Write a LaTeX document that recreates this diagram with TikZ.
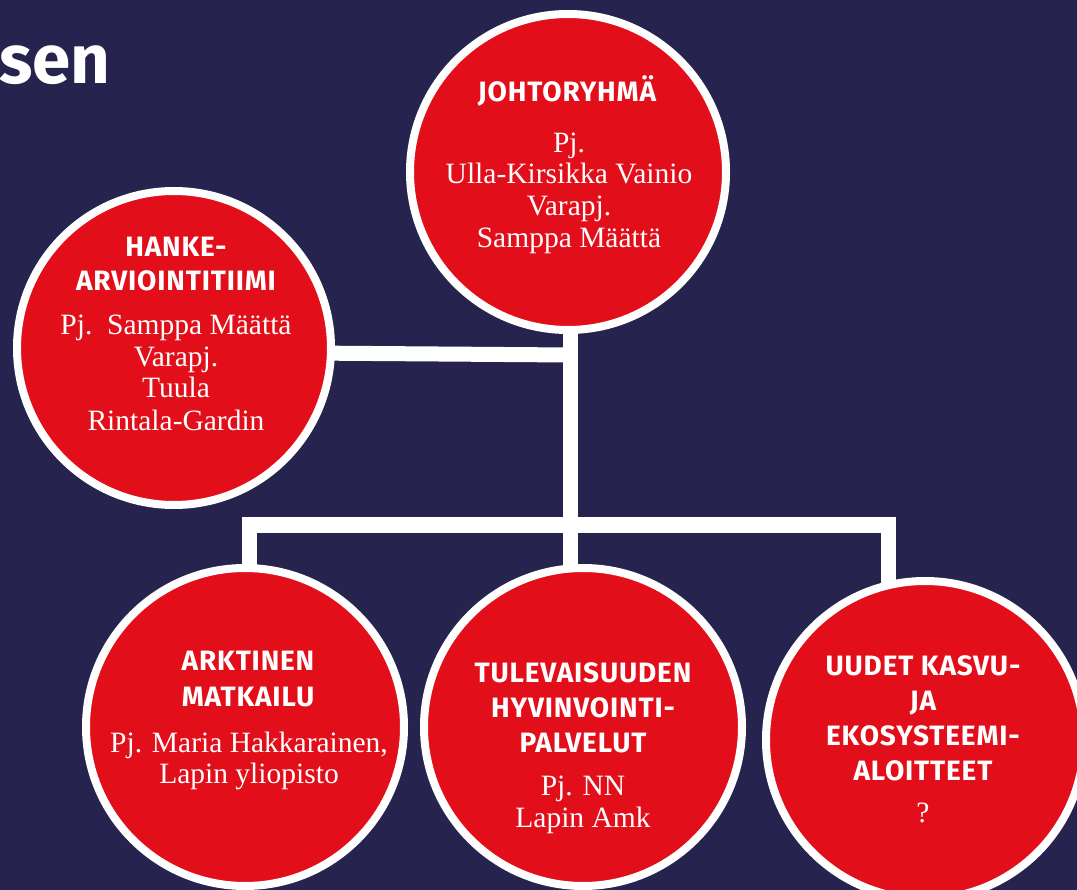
\documentclass[tikz,border=0pt]{standalone}
\usepackage{fontspec}
\setmainfont{Liberation Serif}
\newfontfamily\headfont[LetterSpace=3]{Fira Sans}
\newfontfamily\titlefont{Fira Sans}
\usetikzlibrary{positioning}
\definecolor{navy}{RGB}{38,36,78}
\definecolor{redc}{RGB}{226,14,26}
\pgfdeclarelayer{bg}
\pgfsetlayers{bg,main}
\tikzset{
  bubble/.style={circle, fill=redc, draw=white, line width=8pt, inner sep=0pt, minimum size=318pt},
  conn/.style={draw=white, line width=15pt},
  head/.style={anchor=base, text=white, inner sep=0pt, font=\headfont\bfseries\fontsize{28}{28}\selectfont},
  body/.style={anchor=base, text=white, inner sep=0pt, font=\fontsize{29.5}{29.5}\selectfont},
}
\begin{document}
\begin{tikzpicture}[x=1pt,y=-1pt]
\useasboundingbox (0,0) rectangle (1077,890);
\begin{pgfonlayer}{bg}
\fill[navy] (0,0) rectangle (1077,890);
\end{pgfonlayer}
% title fragment
\node[anchor=base east, text=white, inner sep=0pt, font=\titlefont\bfseries\fontsize{69}{69}\selectfont] (title) at (111,84) {sen};
% circles
\node[bubble, minimum size=316pt] (johto) at (568,172) {};
\node[bubble, minimum size=314pt] (hanke) at (174,348) {};
\node[bubble] (ark) at (245,727) {};
\node[bubble] (tul) at (583,727) {};
\node[bubble] (uud) at (925,740) {};
% connectors
\coordinate (jct) at (570,355);
\coordinate (bus) at (570,525);
\coordinate (busL) at (249,525);
\coordinate (busR) at (888,525);
\begin{pgfonlayer}{bg}
\draw[conn] (hanke.center |- 0,352) -- (jct);
\draw[conn] (bus |- johto.center) -- (bus |- tul.center);
\draw[conn] (busL |- ark.center) -- (busL) -- (busR) -- (busR |- uud.center);
\end{pgfonlayer}
% johto text
\node[head] (j1) at (567,102) {JOHTORYHMÄ};
\node[body] (j2) at (569,153) {Pj.};
\node[body] (j3) at (569,184) {Ulla-Kirsikka Vainio};
\node[body] (j4) at (569,216) {Varapj.};
\node[body] (j5) at (569,248) {Samppa Määttä};
% hanke text
\node[head] (h1) at (176,257) {HANKE-};
\node[head] (h2) at (176,291) {ARVIOINTITIIMI};
\node[body] (h3) at (176,335) {Pj.\ \ Samppa Määttä};
\node[body] (h4) at (176,367) {Varapj.};
\node[body] (h5) at (176,398) {Tuula};
\node[body] (h6) at (176,431) {Rintala-Gardin};
% ark text
\node[head] (a1) at (248,670) {ARKTINEN};
\node[head] (a2) at (248,706) {MATKAILU};
\node[body] (a3) at (249,752) {Pj. Maria Hakkarainen,};
\node[body] (a4) at (249,783) {Lapin yliopisto};
% tul text
\node[head] (t1) at (583,682) {TULEVAISUUDEN};
\node[head] (t2) at (583,717) {HYVINVOINTI-};
\node[head] (t3) at (583,752) {PALVELUT};
\node[body] (t4) at (583,795) {Pj. NN};
\node[body] (t5) at (583,827) {Lapin Amk};
% uud text
\node[head] (u1) at (923,675) {UUDET KASVU-};
\node[head] (u2) at (923,710) {JA};
\node[head] (u3) at (923,745) {EKOSYSTEEMI-};
\node[head] (u4) at (923,780) {ALOITTEET};
\node[body] (u5) at (923,822) {?};
\end{tikzpicture}
\end{document}
